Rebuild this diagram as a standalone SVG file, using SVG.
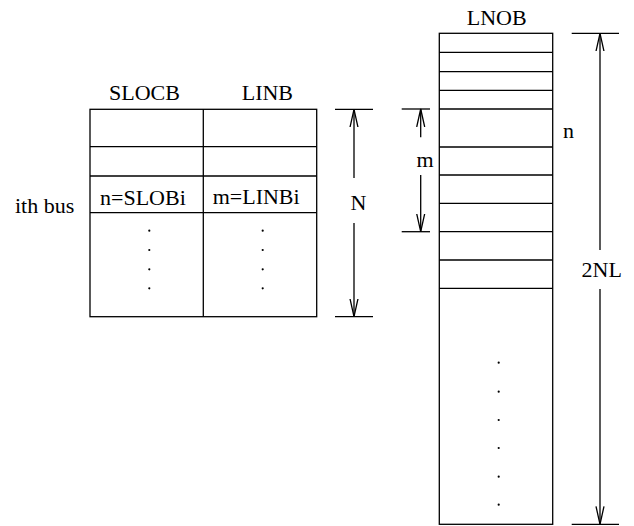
<svg xmlns="http://www.w3.org/2000/svg" width="634" height="526" viewBox="0 0 634 526">
<style>
.ln{stroke:#000;stroke-width:1.3;fill:none}
.box{stroke:#000;stroke-width:1.3;fill:#fff}
text{font-family:'Liberation Serif','DejaVu Serif',serif;font-size:22px;fill:#000}
.dot{fill:#000}
</style>
<defs>
<marker id="ah" markerWidth="20" markerHeight="10" refX="18" refY="5" orient="auto" markerUnits="userSpaceOnUse">
<path d="M0,1 L18,5 L0,9" fill="none" stroke="#000" stroke-width="1.3"/>
</marker>
</defs>
<g id="left-table">
<rect class="box" x="90" y="109.3" width="226.7" height="207.4"/>
<line class="ln" x1="203.3" y1="109.3" x2="203.3" y2="316.7"/>
<line class="ln" x1="90" y1="146.7" x2="316.7" y2="146.7"/>
<line class="ln" x1="90" y1="176" x2="316.7" y2="176"/>
<line class="ln" x1="90" y1="212.7" x2="316.7" y2="212.7"/>
<text x="109" y="100" font-family="Liberation Serif, serif">SLOCB</text>
<text x="241.7" y="100" font-family="Liberation Serif, serif">LINB</text>
<text x="100" y="204.5" font-family="Liberation Serif, serif">n=SLOBi</text>
<text x="212.7" y="204" font-family="Liberation Serif, serif">m=LINBi</text>
<circle class="dot" cx="149.3" cy="230.7" r="1.1"/>
<circle class="dot" cx="149.3" cy="250" r="1.1"/>
<circle class="dot" cx="149.3" cy="269.3" r="1.1"/>
<circle class="dot" cx="149.3" cy="288.3" r="1.1"/>
<circle class="dot" cx="262.7" cy="230.7" r="1.1"/>
<circle class="dot" cx="262.7" cy="250" r="1.1"/>
<circle class="dot" cx="262.7" cy="269.3" r="1.1"/>
<circle class="dot" cx="262.7" cy="288.3" r="1.1"/>
</g>
<g id="ith-bus">
<text x="15" y="213" font-family="Liberation Serif, serif">ith bus</text>
</g>
<g id="right-table">
<rect class="box" x="439.3" y="33.3" width="113.4" height="491"/>
<line class="ln" x1="439.3" y1="52.3" x2="552.7" y2="52.3"/>
<line class="ln" x1="439.3" y1="71.7" x2="552.7" y2="71.7"/>
<line class="ln" x1="439.3" y1="90.3" x2="552.7" y2="90.3"/>
<line class="ln" x1="439.3" y1="109" x2="552.7" y2="109"/>
<line class="ln" x1="439.3" y1="147" x2="552.7" y2="147"/>
<line class="ln" x1="439.3" y1="175" x2="552.7" y2="175"/>
<line class="ln" x1="439.3" y1="203.3" x2="552.7" y2="203.3"/>
<line class="ln" x1="439.3" y1="231.7" x2="552.7" y2="231.7"/>
<line class="ln" x1="439.3" y1="260" x2="552.7" y2="260"/>
<line class="ln" x1="439.3" y1="288.3" x2="552.7" y2="288.3"/>
<text x="466.7" y="25" font-family="Liberation Serif, serif">LNOB</text>
<circle class="dot" cx="498.7" cy="362.7" r="1.1"/>
<circle class="dot" cx="498.7" cy="391.7" r="1.1"/>
<circle class="dot" cx="498.7" cy="420" r="1.1"/>
<circle class="dot" cx="498.7" cy="448" r="1.1"/>
<circle class="dot" cx="498.7" cy="476.7" r="1.1"/>
<circle class="dot" cx="498.7" cy="504.7" r="1.1"/>
</g>
<g id="n-label">
<text x="563" y="137.5" font-family="Liberation Serif, serif">n</text>
</g>
<g id="connectors">
<g id="dim-N">
<line class="ln" x1="335" y1="109.3" x2="373" y2="109.3"/>
<line class="ln" x1="335" y1="316.7" x2="373" y2="316.7"/>
<line class="ln" x1="354" y1="178" x2="354" y2="109.3" marker-end="url(#ah)"/>
<line class="ln" x1="354" y1="223" x2="354" y2="316.7" marker-end="url(#ah)"/>
<text x="350.5" y="210" font-family="Liberation Serif, serif">N</text>
</g>
<g id="dim-m">
<line class="ln" x1="401.7" y1="109" x2="430" y2="109"/>
<line class="ln" x1="401.7" y1="231.7" x2="430" y2="231.7"/>
<line class="ln" x1="420.7" y1="137.3" x2="420.7" y2="109" marker-end="url(#ah)"/>
<line class="ln" x1="420.7" y1="175" x2="420.7" y2="231.7" marker-end="url(#ah)"/>
<text x="416.5" y="167" font-family="Liberation Serif, serif">m</text>
</g>
<g id="dim-2NL">
<line class="ln" x1="571.7" y1="33.3" x2="619" y2="33.3"/>
<line class="ln" x1="571.7" y1="524.3" x2="619" y2="524.3"/>
<line class="ln" x1="600" y1="250" x2="600" y2="33.3" marker-end="url(#ah)"/>
<line class="ln" x1="600" y1="289" x2="600" y2="524.3" marker-end="url(#ah)"/>
<text x="581.5" y="277" font-family="Liberation Serif, serif">2NL</text>
</g>
</g>
</svg>
